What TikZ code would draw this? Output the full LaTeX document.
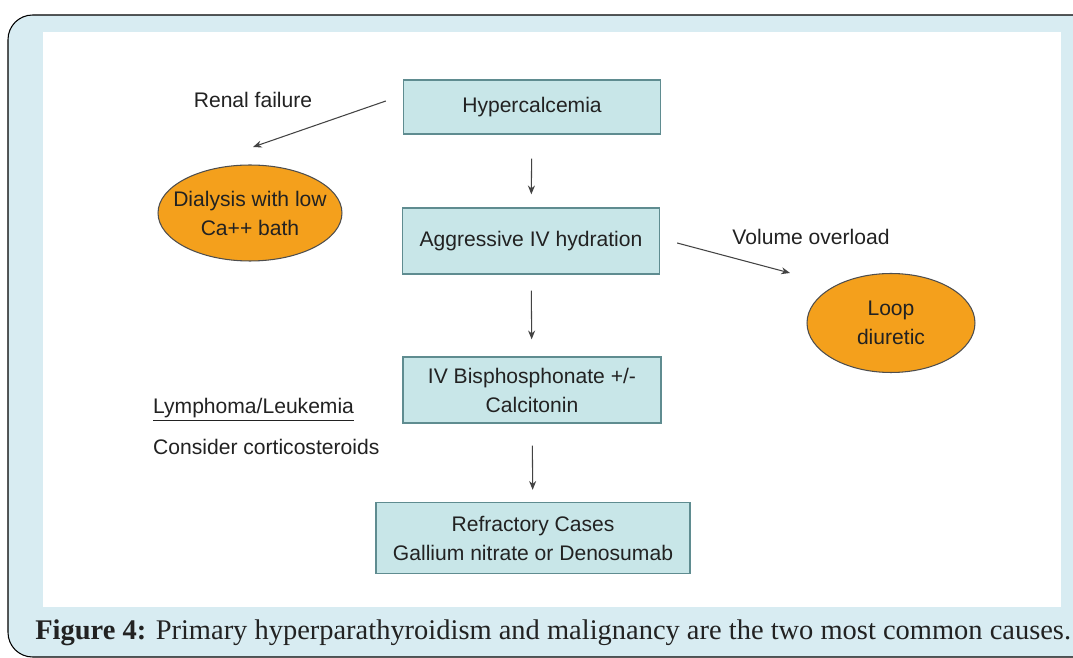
\documentclass[tikz,border=0pt]{standalone}
\usepackage{fontspec}
\setmainfont{Liberation Sans}
\newfontfamily\capfont{Liberation Serif}
\usetikzlibrary{arrows.meta,shapes.geometric}
\definecolor{framebg}{HTML}{D8ECF2}
\definecolor{boxfill}{HTML}{C8E6E8}
\definecolor{boxline}{HTML}{5F8C90}
\definecolor{ovalfill}{HTML}{F4A01C}
\definecolor{ink}{HTML}{222222}
\begin{document}
\begin{tikzpicture}[x=0.02cm,y=-0.02cm, font=\fontsize{12}{16.5}\selectfont, text=ink,
	box/.style={draw=boxline, fill=boxfill, line width=0.8pt, align=center, inner sep=2pt},
	oval/.style={ellipse, draw=ink!80, fill=ovalfill, line width=0.6pt, inner sep=0pt},
	arr/.style={-{Stealth[length=5pt,width=4pt]}, draw=ink!85, line width=0.6pt}]
	\useasboundingbox (0,0) rectangle (1073,658);
	\clip (0,0) rectangle (1073,658);
	% frame and white panel
	\draw[fill=framebg, line width=0.6pt, rounded corners=14] (8,15) rectangle (1100,657);
	\fill[white] (43,32) rectangle (1061,607);
	% main column
	\node[box, minimum width=5.14cm, minimum height=1.08cm] (hyper) at (532,107) {Hypercalcemia};
	\node[box, minimum width=5.14cm, minimum height=1.32cm] (hydra) at (531,241) {Aggressive IV hydration};
	\node[box, minimum width=5.16cm, minimum height=1.32cm] (bisph) at (532,390) {IV Bisphosphonate +/-\\Calcitonin};
	\node[box, minimum width=6.28cm, minimum height=1.42cm] (refra) at (533,538) {Refractory Cases\\Gallium nitrate or Denosumab};
	% side ovals
	\node[oval, minimum width=3.68cm, minimum height=1.92cm] (dialysis) at (250,213) {};
	\node[align=center] at (dialysis) {Dialysis with low\\Ca++ bath};
	\node[oval, minimum width=3.36cm, minimum height=1.98cm] (loop) at (891,323) {};
	\node[align=center] at (loop) {Loop\\diuretic};
	% labels
	\node (renal) at (253,100) {Renal failure};
	\node (volume) at (811,237) {Volume overload};
	\node[anchor=west] (lymph) at (147,410) {\underline{Lymphoma/Leukemia}};
	\node[anchor=west] (cortico) at (147,447) {Consider corticosteroids};
	\coordinate (rf) at (253,147);
	\coordinate (vo) at (790,273);
	% arrows
	\draw[arr, shorten <=0.48cm, shorten >=0.26cm] (hyper) -- (hydra);
	\draw[arr, shorten <=0.32cm, shorten >=0.34cm] (hydra) -- (bisph);
	\draw[arr, shorten <=0.44cm, shorten >=0.24cm] (bisph) -- (refra);
	\draw[arr] ([xshift=-0.34cm,yshift=0.12cm]hyper.west) -- (rf);
	\draw[arr] ([xshift=0.34cm,yshift=-0.04cm]hydra.east) -- (vo);
	% caption
	\node[anchor=west, inner sep=0pt] (caption) at (35,633) {\capfont\fontsize{16.2}{18}\selectfont\textbf{Figure 4:} Primary hyperparathyroidism and malignancy are the two most common causes.};
\end{tikzpicture}
\end{document}
